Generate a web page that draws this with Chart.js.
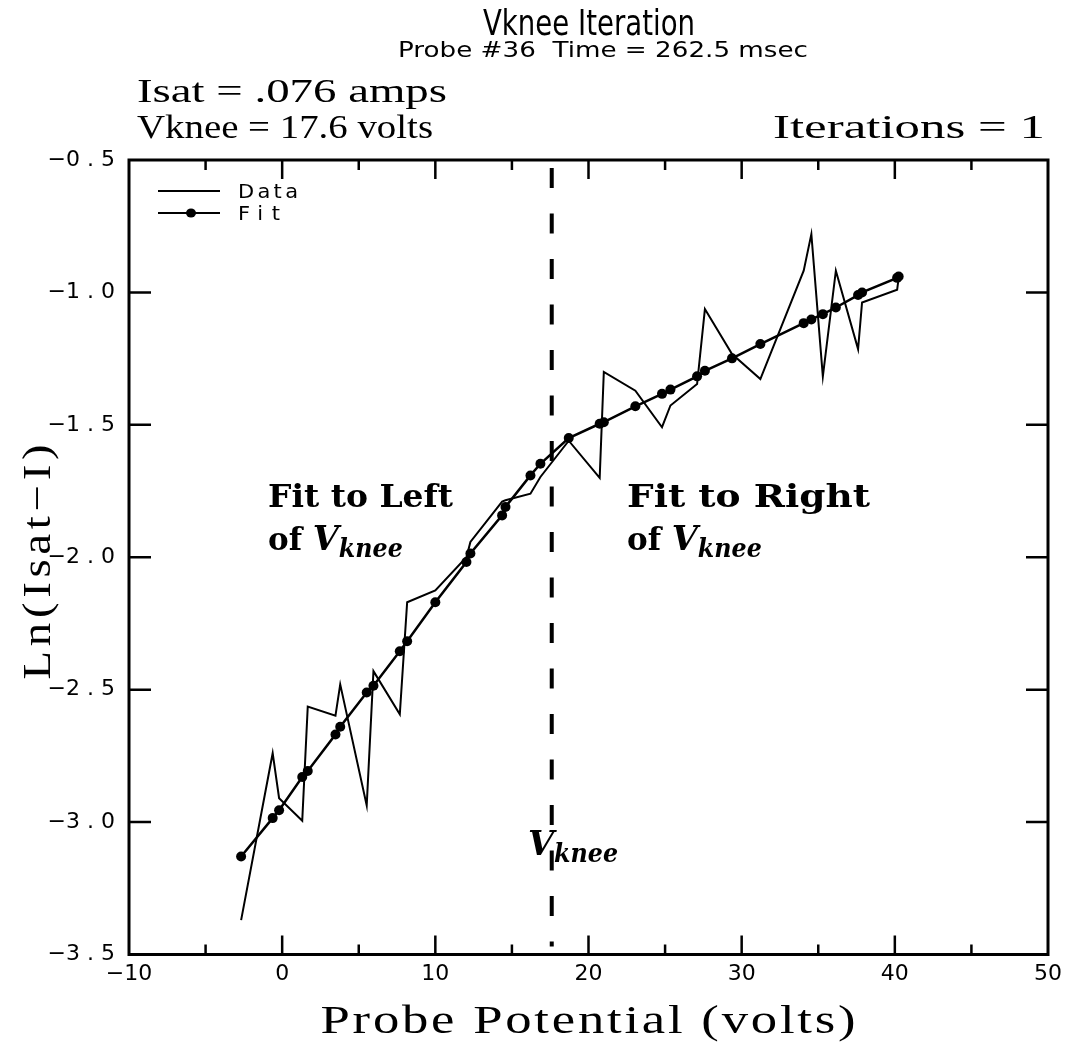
<!DOCTYPE html>
<html>
<head>
<meta charset="utf-8">
<script src="https://cdn.jsdelivr.net/npm/chart.js@4.4.1/dist/chart.umd.min.js"></script>
<style>
  html, body { margin: 0; padding: 0; background: #fff; }
  canvas { display: block; }
</style>
</head>
<body>
<canvas id="chart" width="1074" height="1057"></canvas>
<script>
// probe potential (volts) for each sample
const probeV = [-2.68, -0.62, -0.2, 1.31, 1.67, 3.48, 3.79, 5.52, 5.96, 7.68, 8.16, 10.0,
  12.03, 12.29, 14.36, 14.58, 16.21, 16.86, 18.71, 20.73, 21.0, 23.06, 24.8, 25.35,
  27.09, 27.6, 29.37, 31.22, 34.05, 34.55, 35.3, 36.15, 37.6, 37.86, 40.15, 40.25];
// measured Ln(Isat-I)
const dataLn = [-3.37, -2.74, -2.91, -2.995, -2.564, -2.598, -2.48, -2.937, -2.43, -2.593, -2.17, -2.125,
  -2.0, -1.942, -1.79, -1.785, -1.76, -1.697, -1.56, -1.70, -1.30, -1.371, -1.509, -1.427,
  -1.346, -1.063, -1.233, -1.327, -0.918, -0.78, -1.317, -0.918, -1.214, -1.038, -0.99, -0.945];
// two-line fit evaluated at the same potentials
const fitLn = [-3.13, -2.985, -2.955, -2.83, -2.807, -2.669, -2.64, -2.511, -2.485, -2.355, -2.317, -2.17,
  -2.018, -1.986, -1.842, -1.81, -1.691, -1.647, -1.55, -1.496, -1.49, -1.43, -1.383, -1.367,
  -1.317, -1.296, -1.249, -1.195, -1.116, -1.102, -1.082, -1.057, -1.01, -1.0, -0.945, -0.94];

const xMin = -10, xMax = 50, xStep = 10, xMinorStep = 5;
const yMin = -3.5, yMax = -0.5, yStep = 0.5;
const vKnee = 17.6;

const sansFont = '"DejaVu Sans", sans-serif';
const serifFont = '"Liberation Serif", serif';
const boldSerif = '"DejaVu Serif", serif';

// draw text fitted to a width: stretch glyphs up to maxScale, then add letter spacing
function fitText(ctx, str, x, y, font, width, align, maxScale) {
  ctx.save();
  ctx.font = font;
  ctx.textAlign = 'left';
  ctx.textBaseline = 'alphabetic';
  const w = ctx.measureText(str).width;
  let s = width / w;
  let sp = 0;
  if (maxScale && s > maxScale && 'letterSpacing' in ctx) {
    s = maxScale;
    sp = (width / s - w) / (str.length - 1);
    ctx.letterSpacing = sp + 'px';
  }
  const total = w + sp * (str.length - 1);
  ctx.translate(x, y);
  ctx.scale(s, 1);
  let x0 = 0;
  if (align === 'center') x0 = -total / 2;
  if (align === 'right') x0 = -total;
  ctx.fillText(str, x0, 0);
  ctx.restore();
}

// "of V_knee" style label
function kneeLabel(ctx, prefix, x, y) {
  ctx.save();
  ctx.fillStyle = '#000';
  ctx.textBaseline = 'alphabetic';
  let cx = x;
  if (prefix) {
    ctx.font = 'bold 31px ' + boldSerif;
    ctx.fillText(prefix, cx, y);
    cx += ctx.measureText(prefix).width;
  }
  fitText(ctx, 'V', cx, y, 'italic bold 34px ' + boldSerif, 26);
  fitText(ctx, 'knee', cx + 26, y + 7, 'italic bold 26px ' + boldSerif, 64);
  ctx.restore();
}

const frame = {
  id: 'frame',
  beforeDatasetsDraw(chart) {
    const { ctx, chartArea: a, scales: { x } } = chart;
    ctx.save();
    // Vknee marker
    const vx = x.getPixelForValue(vKnee);
    ctx.strokeStyle = '#000';
    ctx.lineWidth = 4;
    ctx.setLineDash([20, 25.5]);
    ctx.beginPath();
    ctx.moveTo(vx, a.top + 8);
    ctx.lineTo(vx, a.bottom - 8);
    ctx.stroke();
    ctx.restore();
  },
  afterDatasetsDraw(chart) {
    const { ctx, chartArea: a, scales: { x, y } } = chart;
    ctx.save();
    ctx.strokeStyle = '#000';
    ctx.fillStyle = '#000';
    ctx.lineWidth = 3;
    ctx.strokeRect(a.left, a.top, a.right - a.left, a.bottom - a.top);

    // inward ticks on all four sides
    ctx.lineWidth = 2.5;
    ctx.beginPath();
    for (let v = xMin + xMinorStep; v < xMax; v += xMinorStep) {
      const px = x.getPixelForValue(v);
      const len = v % xStep === 0 ? 19 : 10;
      ctx.moveTo(px, a.bottom); ctx.lineTo(px, a.bottom - len);
      ctx.moveTo(px, a.top); ctx.lineTo(px, a.top + len);
    }
    for (let v = yMin + yStep; v < yMax - 1e-9; v += yStep) {
      const py = y.getPixelForValue(v);
      ctx.moveTo(a.left, py); ctx.lineTo(a.left + 22, py);
      ctx.moveTo(a.right, py); ctx.lineTo(a.right - 22, py);
    }
    ctx.stroke();

    // legend
    ctx.lineWidth = 2;
    ctx.beginPath();
    ctx.moveTo(158, 191); ctx.lineTo(220, 191);
    ctx.moveTo(158, 213); ctx.lineTo(220, 213);
    ctx.stroke();
    ctx.beginPath();
    ctx.ellipse(191, 213, 5, 4.5, 0, 0, Math.PI * 2);
    ctx.fill();
    fitText(ctx, 'Data', 238, 198, '20px ' + sansFont, 60, 'left', 1.05);
    fitText(ctx, 'Fit', 238, 220, '20px ' + sansFont, 42, 'left', 1.05);

    // headers
    fitText(ctx, 'Vknee Iteration', 589, 35, '36px ' + sansFont, 212, 'center');
    fitText(ctx, 'Probe #36  Time = 262.5 msec', 603, 57, '21px ' + sansFont, 410, 'center');
    fitText(ctx, 'Isat = .076 amps', 137, 102, '33px ' + serifFont, 310);
    fitText(ctx, 'Vknee = 17.6 volts', 137, 138, '33px ' + serifFont, 296);
    fitText(ctx, 'Iterations = 1', 1045, 138, '33px ' + serifFont, 272, 'right');

    // axis titles
    fitText(ctx, 'Probe Potential (volts)', 588, 1033, '39px ' + serifFont, 535, 'center', 1.35);
    ctx.save();
    ctx.translate(50, 562);
    ctx.rotate(-Math.PI / 2);
    fitText(ctx, 'Ln(Isat\u2212I)', 0, 0, '39px ' + serifFont, 235, 'center', 1.2);
    ctx.restore();

    // annotations
    fitText(ctx, 'Fit to Left', 268, 507, 'bold 31px ' + boldSerif, 185);
    kneeLabel(ctx, 'of ', 268, 550);
    fitText(ctx, 'Fit to Right', 627, 507, 'bold 31px ' + boldSerif, 243);
    kneeLabel(ctx, 'of ', 627, 550);
    kneeLabel(ctx, '', 528, 855);
    ctx.restore();
  }
};

new Chart(document.getElementById('chart'), {
  type: 'scatter',
  data: {
    datasets: [
      {
        label: 'Data',
        data: probeV.map((v, i) => ({ x: v, y: dataLn[i] })),
        showLine: true,
        borderColor: '#000',
        borderWidth: 2,
        pointRadius: 0,
        tension: 0
      },
      {
        label: 'Fit',
        data: probeV.map((v, i) => ({ x: v, y: fitLn[i] })),
        showLine: true,
        borderColor: '#000',
        borderWidth: 2.5,
        pointRadius: 5,
        pointBackgroundColor: '#000',
        pointBorderWidth: 0,
        tension: 0
      }
    ]
  },
  options: {
    responsive: false,
    animation: false,
    layout: { padding: { top: 160, right: 26, left: 0, bottom: 0 } },
    plugins: { legend: { display: false }, tooltip: { enabled: false } },
    scales: {
      x: {
        type: 'linear',
        min: xMin,
        max: xMax,
        afterFit: (s) => { s.height = 102.5; },
        grid: { display: false, drawTicks: false },
        border: { display: false },
        ticks: {
          stepSize: xStep,
          padding: 7,
          color: '#000',
          font: { family: sansFont, size: 22 },
          maxRotation: 0,
          callback: (v) => String(v).replace('-', '\u2212')
        }
      },
      y: {
        type: 'linear',
        min: yMin,
        max: yMax,
        afterFit: (s) => { s.width = 129; },
        grid: { display: false, drawTicks: false },
        border: { display: false },
        ticks: {
          stepSize: yStep,
          padding: 14,
          color: '#000',
          font: { family: sansFont, size: 22 },
          callback: (v) => v.toFixed(1).replace('-', '\u2212').replace('.', ' . ')
        }
      }
    }
  },
  plugins: [frame]
});
</script>
</body>
</html>
